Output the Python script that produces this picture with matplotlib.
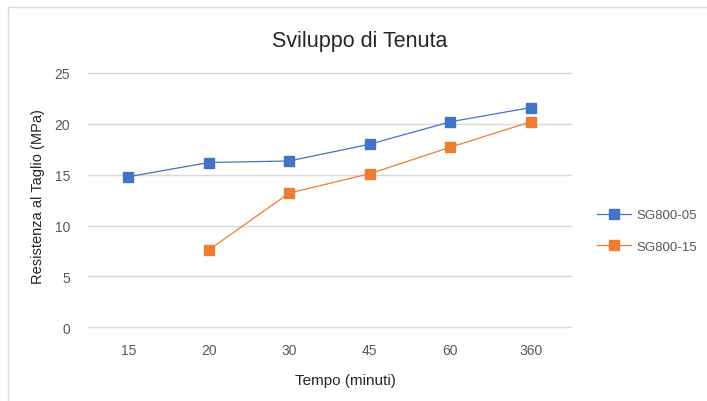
import matplotlib
matplotlib.use("Agg")
import matplotlib.pyplot as plt
import numpy as np
from matplotlib.lines import Line2D

categories = ["15", "20", "30", "45", "60", "360"]
sg800_05 = [14.8, 16.2, 16.35, 18.0, 20.2, 21.6]
sg800_15 = [np.nan, 7.6, 13.2, 15.1, 17.7, 20.2]
y_ticks = [0, 5, 10, 15, 20, 25]

W, H = 707, 402
fig = plt.figure(figsize=(W / 100, H / 100), dpi=100)
fig.patch.set_facecolor("white")

narrow = ["Liberation Sans Narrow", "Liberation Sans", "DejaVu Sans"]

# figure border (top and left visible)
fig.add_artist(Line2D([8 / W, 8 / W], [0, 1 - 8 / H], transform=fig.transFigure, color="#D9D9D9", lw=1))
fig.add_artist(Line2D([8 / W, 1], [1 - 8 / H, 1 - 8 / H], transform=fig.transFigure, color="#D9D9D9", lw=1))

ax = fig.add_axes([88 / W, 1 - 328.3 / H, (571 - 88) / W, (328.3 - 74) / H])
x = np.arange(len(categories))
blue = "#4472C4"
orange = "#ED7D31"
ax.plot(x, sg800_05, color=blue, lw=0.9, marker="s", markersize=7.5, markeredgecolor=blue, label="SG800-05", zorder=3)
ax.plot(x, sg800_15, color=orange, lw=0.9, marker="s", markersize=7.5, markeredgecolor=orange, label="SG800-15", zorder=3)

ax.set_xlim(-0.5, len(categories) - 0.5)
ax.set_ylim(0, 25)
ax.set_yticks(y_ticks)
ax.set_xticks(x)
ax.set_xticklabels(categories)
for s in ax.spines.values():
    s.set_visible(False)
ax.grid(axis="y", color="#D9D9D9", lw=1)
for gl in ax.get_ygridlines():
    gl.set_clip_on(False)
ax.set_axisbelow(True)
ax.tick_params(length=0, labelsize=10, labelcolor="#595959")
ax.tick_params(axis="y", pad=13)
ax.tick_params(axis="x", pad=11)
for lab in ax.get_xticklabels() + ax.get_yticklabels():
    lab.set_family(narrow)

fig.text(360 / W, 1 - 42 / H, "Sviluppo di Tenuta", ha="center", va="center", fontsize=15.5, family=narrow, color="#262626")
fig.text(38 / W, 1 - 197 / H, "Resistenza al Taglio (MPa)", ha="center", va="center", rotation=90, fontsize=10.5, family=["Liberation Sans", "DejaVu Sans"], color="#262626")
fig.text(345 / W, 1 - 381 / H, "Tempo (minuti)", ha="center", va="center", fontsize=11, family=narrow, color="#262626")

leg = fig.legend(loc="center left", bbox_to_anchor=(597 / W, 1 - 232 / H), frameon=False,
                 prop={"family": narrow, "size": 9.5}, handlelength=2.6, labelspacing=1.45,
                 handletextpad=0.35, borderpad=0, borderaxespad=0)
for t in leg.get_texts():
    t.set_color("#595959")

fig.savefig("out.png", dpi=100)
